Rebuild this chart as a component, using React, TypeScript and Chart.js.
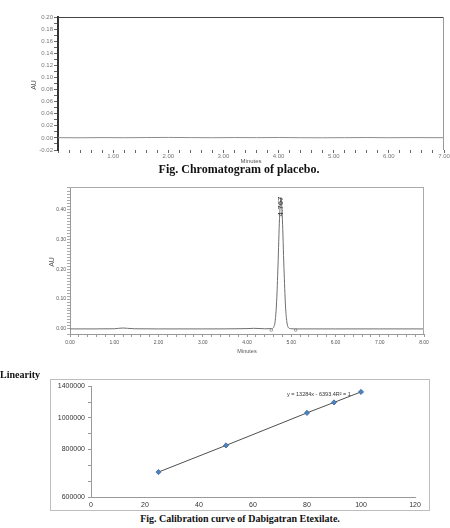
import React, { useEffect, useRef } from "react";
import { Chart, registerables } from "chart.js";

Chart.register(...registerables);

// ---------- Chromatogram of placebo ----------
const PLACEBO_TIMES = [0, 0.4, 0.8, 1.2, 1.6, 2.0, 2.4, 2.8, 3.2, 3.6, 4.0, 4.4, 4.8, 5.2, 5.6, 6.0, 6.4, 6.8, 7.0];
const PLACEBO_AU = [0.0004, 0.0002, 0.0005, 0.0003, 0.0006, 0.0008, 0.0005, 0.0003, 0.0006, 0.0004, 0.0007, 0.0003, 0.0002, 0.0004, 0.0006, 0.0003, 0.0005, 0.0004, 0.0003];
const PLACEBO_Y_LABELED = [-0.02, 0, 0.02, 0.04, 0.06, 0.08, 0.1, 0.12, 0.14, 0.16, 0.18, 0.2];
const PLACEBO_X_LABELED = [1, 2, 3, 4, 5, 6, 7];

// ---------- Standard chromatogram ----------
const STD_TIMES = [0, 0.5, 1.0, 1.1, 1.2, 1.3, 1.45, 2.0, 3.0, 4.0, 4.15, 4.25, 4.4, 4.55, 4.62, 4.67, 4.7, 4.735, 4.767, 4.8, 4.835, 4.87, 4.9, 4.93, 4.98, 5.1, 6.0, 7.0, 8.0];
const STD_AU = [0, 0, 0.0005, 0.002, 0.003, 0.002, 0.0005, 0, 0, 0.001, 0.002, 0.0015, 0.0005, 0.001, 0.012, 0.093, 0.21, 0.37, 0.44, 0.367, 0.205, 0.077, 0.024, 0.0055, 0.001, 0, 0, 0, 0];
const STD_MARK_TIMES = [4.55, 5.1];
const STD_MARK_AU = [-0.004, -0.004];
const PEAK_RT = 4.767;
const PEAK_AU = 0.44;
const PEAK_LABEL = "4.767";
const STD_Y_LABELED = [0, 0.1, 0.2, 0.3, 0.4];
const STD_X_LABELED = [0, 1, 2, 3, 4, 5, 6, 7, 8];

// ---------- Calibration curve ----------
const CAL_CONC = [25, 50, 80, 90, 100];
const CAL_AREA = [315000, 652000, 1063000, 1195000, 1328000];
const CAL_Y_TICK_LABELS = ["600000", "", "", "800000", "", "1000000", "", "1400000"];
const CAL_EQUATION = "y = 13284x - 6393.4R\u00b2 = 1";

const SANS = "'Liberation Sans', Arial, sans-serif";

const near = (list: number[], v: number) => list.some((l) => Math.abs(l - v) < 1e-6);

const framePlugin = {
  id: "frame",
  afterDraw(chart: any, _args: any, opts: any) {
    const { ctx, chartArea: a } = chart;
    ctx.save();
    ctx.lineWidth = 1;
    if (opts.top) {
      ctx.strokeStyle = opts.top;
      ctx.beginPath();
      ctx.moveTo(a.left, Math.round(a.top) + 0.5);
      ctx.lineTo(a.right, Math.round(a.top) + 0.5);
      ctx.stroke();
    }
    if (opts.right) {
      ctx.strokeStyle = opts.right;
      ctx.beginPath();
      ctx.moveTo(Math.round(a.right) - 0.5, a.top);
      ctx.lineTo(Math.round(a.right) - 0.5, a.bottom);
      ctx.stroke();
    }
    if (opts.box) {
      ctx.strokeStyle = opts.box;
      ctx.strokeRect(0.5, 0.5, chart.width - 1, chart.height - 1);
    }
    if (opts.peak) {
      const xs = chart.scales.x;
      const ys = chart.scales.y;
      const px = xs.getPixelForValue(opts.peak.x);
      const py = ys.getPixelForValue(opts.peak.y);
      ctx.translate(px, py - 1);
      ctx.rotate(-Math.PI / 2);
      ctx.fillStyle = "#333";
      ctx.font = `8px ${SANS}`;
      ctx.textAlign = "right";
      ctx.textBaseline = "middle";
      ctx.fillText(opts.peak.label, 0, 0);
      ctx.setTransform(1, 0, 0, 1, 0, 0);
    }
    if (opts.equation) {
      ctx.fillStyle = "#333";
      ctx.font = `5.5px ${SANS}`;
      ctx.textAlign = "left";
      ctx.textBaseline = "middle";
      ctx.fillText(opts.equation.text, opts.equation.x, opts.equation.y);
    }
    ctx.restore();
  },
};

function usePlacebo(ref: React.RefObject<HTMLCanvasElement>) {
  useEffect(() => {
    if (!ref.current) return;
    const chart = new Chart(ref.current, {
      type: "line",
      data: {
        datasets: [
          {
            data: PLACEBO_TIMES.map((t, i) => ({ x: t, y: PLACEBO_AU[i] })),
            borderColor: "#8c8c8c",
            borderWidth: 1,
            pointRadius: 0,
          },
        ],
      },
      options: {
        responsive: false,
        animation: false,
        layout: { padding: { left: 0, top: 17, right: 6, bottom: 0 }, autoPadding: false },
        plugins: {
          legend: { display: false },
          tooltip: { enabled: false },
          frame: { top: "#444", right: "#999" },
        } as any,
        scales: {
          x: {
            type: "linear",
            min: 0,
            max: 7,
            afterFit: (s: any) => { s.height = 15; },
            border: { display: false },
            grid: { drawOnChartArea: false, drawTicks: true, tickLength: 3, color: "#666" },
            ticks: {
              stepSize: 0.2,
              autoSkip: false,
              maxRotation: 0,
              padding: 0,
              color: "#777",
              font: { size: 6, family: SANS },
              callback: (v: any) => (near(PLACEBO_X_LABELED, Number(v)) ? Number(v).toFixed(2) : ""),
            },
          },
          y: {
            type: "linear",
            min: -0.02,
            max: 0.2,
            afterFit: (s: any) => { s.width = 58; },
            border: { display: true, color: "#333", width: 2 },
            grid: { drawOnChartArea: false, drawTicks: true, tickLength: 4, color: "#666" },
            ticks: {
              stepSize: 0.01,
              autoSkip: false,
              padding: 1,
              color: "#777",
              font: { size: 6, family: SANS },
              callback: (v: any) => (near(PLACEBO_Y_LABELED, Number(v)) ? Number(v).toFixed(2) : ""),
            },
          },
        },
      },
      plugins: [framePlugin as any],
    });
    return () => chart.destroy();
  }, []);
}

function useStandard(ref: React.RefObject<HTMLCanvasElement>) {
  useEffect(() => {
    if (!ref.current) return;
    const chart = new Chart(ref.current, {
      type: "line",
      data: {
        datasets: [
          {
            data: STD_TIMES.map((t, i) => ({ x: t, y: STD_AU[i] })),
            borderColor: "#6e6e6e",
            borderWidth: 1,
            pointRadius: 0,
            cubicInterpolationMode: "monotone",
          },
          {
            data: STD_MARK_TIMES.map((t, i) => ({ x: t, y: STD_MARK_AU[i] })),
            showLine: false,
            pointRadius: 1.3,
            pointBorderWidth: 0.8,
            pointBorderColor: "#888",
            pointBackgroundColor: "#fff",
          },
        ],
      },
      options: {
        responsive: false,
        animation: false,
        layout: { padding: { left: 0, top: 12, right: 26, bottom: 0 }, autoPadding: false },
        plugins: {
          legend: { display: false },
          tooltip: { enabled: false },
          frame: { top: "#aaa", right: "#aaa", peak: { x: PEAK_RT, y: PEAK_AU, label: PEAK_LABEL } },
        } as any,
        scales: {
          x: {
            type: "linear",
            min: 0,
            max: 8,
            afterFit: (s: any) => { s.height = 26; },
            border: { display: true, color: "#999", width: 1 },
            grid: { drawOnChartArea: false, drawTicks: true, tickLength: 3, color: "#999" },
            ticks: {
              stepSize: 0.2,
              autoSkip: false,
              maxRotation: 0,
              padding: 3,
              color: "#555",
              font: { size: 5, family: SANS },
              callback: (v: any) => (near(STD_X_LABELED, Number(v)) ? Number(v).toFixed(2) : ""),
            },
          },
          y: {
            type: "linear",
            min: -0.017,
            max: 0.475,
            afterFit: (s: any) => { s.width = 70; },
            border: { display: true, color: "#999", width: 1 },
            grid: { drawOnChartArea: false, drawTicks: true, tickLength: 3, color: "#aaa" },
            ticks: {
              stepSize: 0.01,
              autoSkip: false,
              padding: 1,
              color: "#555",
              font: { size: 5, family: SANS },
              callback: (v: any) => (near(STD_Y_LABELED, Number(v)) ? Number(v).toFixed(2) : ""),
            },
          },
        },
      },
      plugins: [framePlugin as any],
    });
    return () => chart.destroy();
  }, []);
}

function useCalibration(ref: React.RefObject<HTMLCanvasElement>) {
  useEffect(() => {
    if (!ref.current) return;
    const chart = new Chart(ref.current, {
      type: "scatter",
      data: {
        datasets: [
          {
            data: CAL_CONC.map((c, i) => ({ x: c, y: CAL_AREA[i] })),
            showLine: true,
            borderColor: "#222",
            borderWidth: 0.8,
            pointStyle: "rectRot",
            pointRadius: 2.6,
            pointBackgroundColor: "#4f81bd",
            pointBorderColor: "#3a6aa0",
            pointBorderWidth: 0.8,
          },
        ],
      },
      options: {
        responsive: false,
        animation: false,
        layout: { padding: { left: 0, top: 7, right: 15, bottom: 0 }, autoPadding: false },
        plugins: {
          legend: { display: false },
          tooltip: { enabled: false },
          frame: { box: "#bdbdbd", equation: { text: CAL_EQUATION, x: 237, y: 15 } },
        } as any,
        scales: {
          x: {
            type: "linear",
            min: 0,
            max: 120,
            afterFit: (s: any) => { s.height = 14; },
            border: { display: true, color: "#999", width: 1 },
            grid: { drawOnChartArea: false, drawTicks: false },
            ticks: {
              stepSize: 20,
              maxRotation: 0,
              padding: 4,
              color: "#333",
              font: { size: 7, family: SANS },
            },
          },
          y: {
            type: "linear",
            min: 0,
            max: 1400000,
            afterFit: (s: any) => { s.width = 41; },
            border: { display: true, color: "#999", width: 1 },
            grid: { drawOnChartArea: false, drawTicks: true, tickLength: 3, color: "#999" },
            ticks: {
              stepSize: 200000,
              autoSkip: false,
              padding: 3,
              color: "#333",
              font: { size: 7, family: SANS },
              callback: (_v: any, i: number) => CAL_Y_TICK_LABELS[i] ?? "",
            },
          },
        },
      },
      plugins: [framePlugin as any],
    });
    return () => chart.destroy();
  }, []);
}

const abs = (left: number, top: number, extra: React.CSSProperties = {}): React.CSSProperties => ({
  position: "absolute",
  left,
  top,
  whiteSpace: "nowrap",
  ...extra,
});

export default function App() {
  const aRef = useRef<HTMLCanvasElement>(null);
  const bRef = useRef<HTMLCanvasElement>(null);
  const cRef = useRef<HTMLCanvasElement>(null);
  usePlacebo(aRef);
  useStandard(bRef);
  useCalibration(cRef);

  const caption: React.CSSProperties = {
    fontFamily: "'Liberation Serif', 'Times New Roman', serif",
    fontWeight: "bold",
    color: "#111",
  };
  const small: React.CSSProperties = { fontFamily: SANS, color: "#555" };

  return (
    <div style={{ position: "absolute", left: 0, top: 0, width: 450, height: 528, background: "#fff", overflow: "hidden" }}>
      <canvas ref={aRef} width={450} height={165} style={abs(0, 0, { width: 450, height: 165 })} />
      <canvas ref={bRef} width={450} height={185} style={abs(0, 175, { width: 450, height: 185 })} />
      <canvas ref={cRef} width={380} height={132} style={abs(50, 379, { width: 380, height: 132 })} />

      <div style={abs(33, 85, { ...small, fontSize: 7, transform: "translate(-50%,-50%) rotate(-90deg)" })}>AU</div>
      <div style={abs(251, 161, { ...small, fontSize: 6, transform: "translate(-50%,-50%)" })}>Minutes</div>
      <div style={abs(239, 169, { ...caption, fontSize: 12, transform: "translate(-50%,-50%)" })}>Fig. Chromatogram of placebo.</div>

      <div style={abs(51, 262, { ...small, fontSize: 7, transform: "translate(-50%,-50%) rotate(-90deg)" })}>AU</div>
      <div style={abs(247, 351, { ...small, fontSize: 5.5, transform: "translate(-50%,-50%)" })}>Minutes</div>

      <div style={abs(0, 374, { ...caption, fontSize: 10, transform: "translateY(-50%)" })}>Linearity</div>
      <div style={abs(240, 518, { ...caption, fontSize: 10, transform: "translate(-50%,-50%)" })}>Fig. Calibration curve of Dabigatran Etexilate.</div>
    </div>
  );
}
